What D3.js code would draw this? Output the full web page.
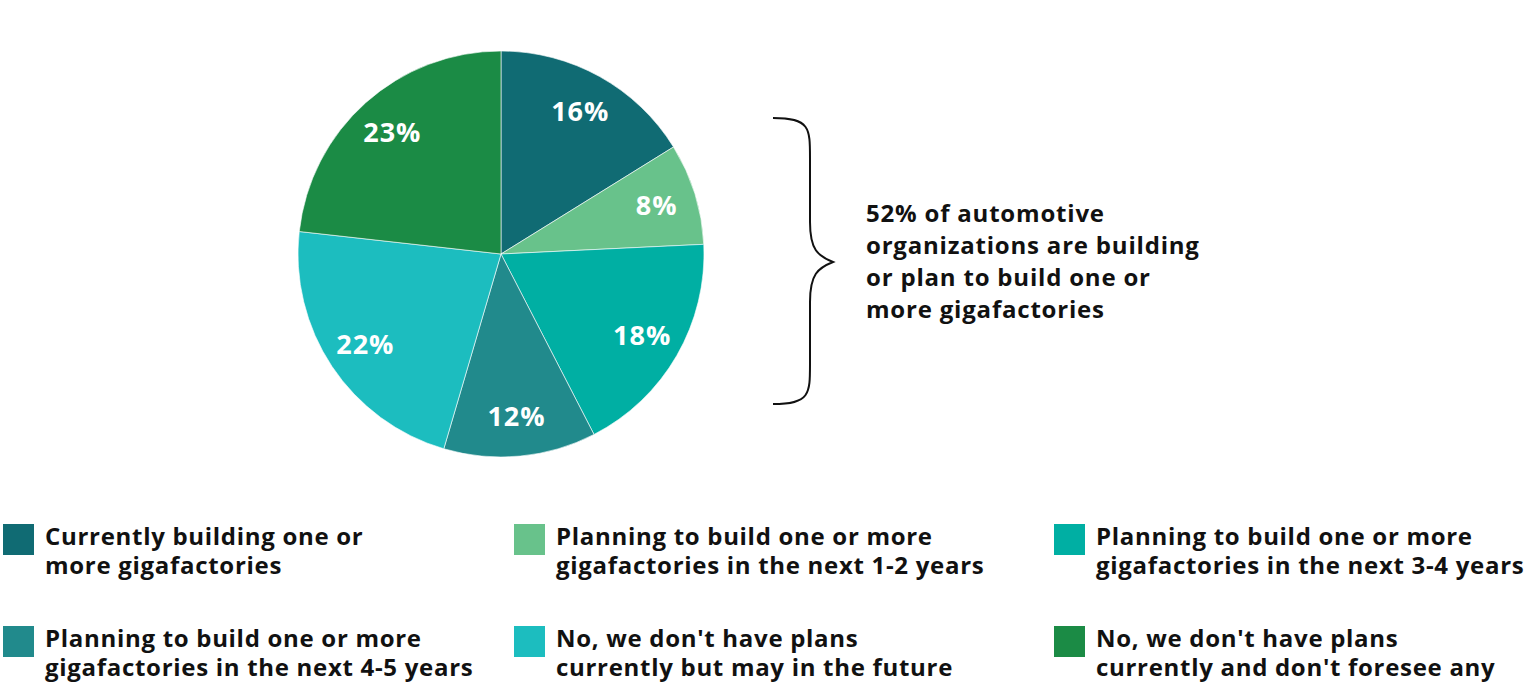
<!DOCTYPE html>
<html>
<head>
<meta charset="utf-8">
<script src="https://cdn.jsdelivr.net/npm/d3@7"></script>
<style>
  body { margin: 0; background: #fff; }
  svg text { font-family: "Open Sans", "Noto Sans", sans-serif; font-weight: 700; }
</style>
</head>
<body>
<svg></svg>
<script>
// data
var categories = [
    ["Currently building one or", "more gigafactories"],
    ["Planning to build one or more", "gigafactories in the next 1-2 years"],
    ["Planning to build one or more", "gigafactories in the next 3-4 years"],
    ["Planning to build one or more", "gigafactories in the next 4-5 years"],
    ["No, we don't have plans", "currently but may in the future"],
    ["No, we don't have plans", "currently and don't foresee any"]
];
var values = [16, 8, 18, 12, 22, 23];
var colors = ["#106b73", "#68c28b", "#00afa3", "#218a8c", "#1cbdbf", "#1b8b45"];
var noteLines = ["52% of automotive", "organizations are building", "or plan to build one or", "more gigafactories"];

window.onload = function(){
    var width = 1525, height = 697;
    var svg = d3.select("svg").attr("width", width).attr("height", height);

    var cx = 501, cy = 254, radius = 203;

    var pie = d3.pie().sort(null).value(function(d){ return d; });
    var arc = d3.arc().innerRadius(0).outerRadius(radius);
    var labelArc = d3.arc().innerRadius(163).outerRadius(163);

    var g = svg.append("g").attr("transform", "translate(" + cx + "," + cy + ")");
    var slices = pie(values);

    g.selectAll("path")
        .data(slices).enter()
        .append("path")
        .attr("d", arc)
        .attr("fill", function(d, i){ return colors[i]; })
        .attr("stroke", "#ffffff")
        .attr("stroke-width", 0.6);

    g.selectAll("text.pct")
        .data(slices).enter()
        .append("text")
        .attr("class", "pct")
        .attr("transform", function(d){ return "translate(" + labelArc.centroid(d) + ")"; })
        .attr("text-anchor", "middle")
        .attr("dy", "0.36em")
        .attr("fill", "#ffffff")
        .style("font-size", "27px")
        .style("letter-spacing", "1px")
        .text(function(d){ return d.data + "%"; });

    // curly brace
    var bx = 773, top = 118, bottom = 404, mid = 262, bw = 37, tip = 23;
    var brace = "M" + bx + "," + top +
        " C" + (bx + bw) + "," + top + " " + (bx + bw) + "," + (top + 10) + " " + (bx + bw) + "," + (top + 40) +
        " L" + (bx + bw) + "," + (mid - 40) +
        " C" + (bx + bw) + "," + (mid - 12) + " " + (bx + bw + 8) + "," + (mid - 6) + " " + (bx + bw + tip) + "," + mid +
        " C" + (bx + bw + 8) + "," + (mid + 6) + " " + (bx + bw) + "," + (mid + 12) + " " + (bx + bw) + "," + (mid + 40) +
        " L" + (bx + bw) + "," + (bottom - 40) +
        " C" + (bx + bw) + "," + (bottom - 10) + " " + (bx + bw) + "," + bottom + " " + bx + "," + bottom;
    svg.append("path")
        .attr("d", brace)
        .attr("fill", "none")
        .attr("stroke", "#111")
        .attr("stroke-width", 2);

    svg.append("text")
        .attr("x", 866)
        .attr("y", 222)
        .style("font-size", "24px")
        .style("letter-spacing", "0.8px")
        .attr("fill", "#111")
        .selectAll("tspan")
        .data(noteLines).enter()
        .append("tspan")
        .attr("x", 866)
        .attr("dy", function(d, i){ return i === 0 ? 0 : 32; })
        .text(function(d){ return d; });

    // legend
    var colX = [3, 514, 1054];
    var rowY = [524, 626];
    var legend = svg.selectAll("g.legend")
        .data(categories).enter()
        .append("g")
        .attr("class", "legend")
        .attr("transform", function(d, i){
            return "translate(" + colX[i % 3] + "," + rowY[Math.floor(i / 3)] + ")";
        });
    legend.append("rect")
        .attr("width", 31).attr("height", 31)
        .attr("fill", function(d, i){ return colors[i]; });
    legend.append("text")
        .attr("x", 42)
        .attr("y", 21)
        .style("font-size", "24px")
        .style("letter-spacing", "0.7px")
        .attr("fill", "#111")
        .selectAll("tspan")
        .data(function(d){ return d; }).enter()
        .append("tspan")
        .attr("x", 42)
        .attr("dy", function(d, i){ return i === 0 ? 0 : 29; })
        .text(function(d){ return d; });
};
</script>
</body>
</html>
